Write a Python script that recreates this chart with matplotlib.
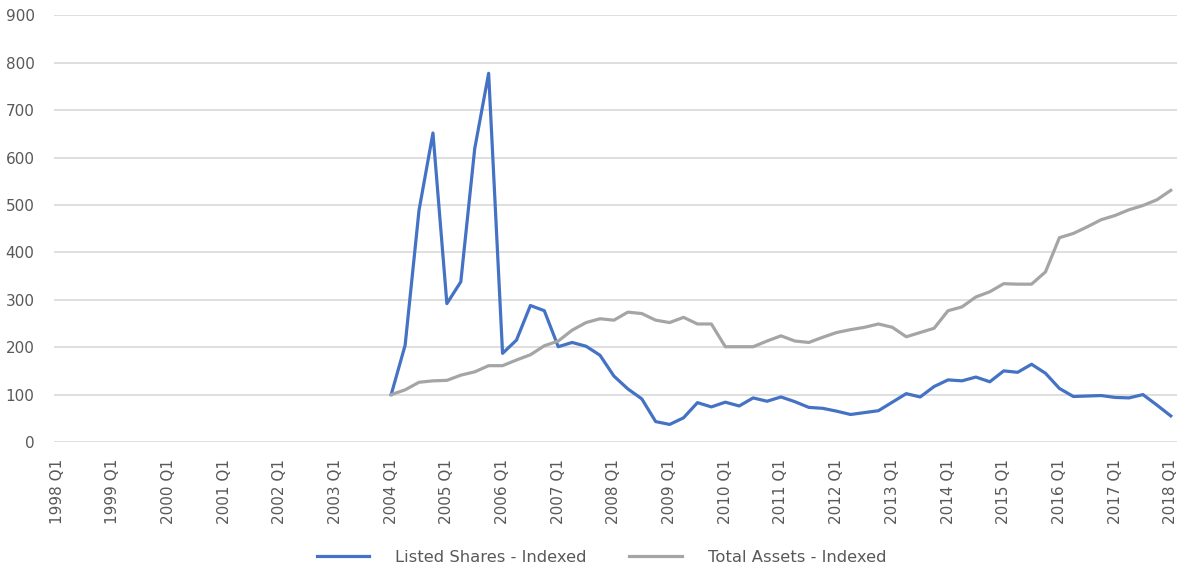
#!/usr/bin/env python3
"""Quarterly index of listed shares against total assets (2004 Q1 = 100)."""

import matplotlib

matplotlib.use("Agg")
import matplotlib.pyplot as plt

# Quarter labels for the category axis, 1998 Q1 .. 2018 Q1
years = list(range(1998, 2019))
quarters = [f"{y} Q{q}" for y in years for q in range(1, 5)][:-3]

# Both series start at 2004 Q1
start_label = "2004 Q1"

listed_shares = [
    100, 204, 489, 652,
    292, 338, 619, 778,
    187, 215, 288, 277,
    201, 210, 202, 183,
    139, 112, 91, 43,
    37, 51, 83, 74,
    84, 76, 93, 86,
    95, 85, 73, 71,
    65, 58, 62, 66,
    84, 102, 95, 117,
    131, 129, 137, 127,
    150, 147, 164, 145,
    113, 96, 97, 98,
    94, 93, 100, 78,
    55,
]

total_assets = [
    100, 110, 126, 129,
    130, 141, 148, 161,
    161, 173, 184, 203,
    213, 236, 252, 260,
    257, 274, 271, 257,
    252, 263, 249, 249,
    201, 201, 201, 213,
    224, 213, 210, 221,
    231, 237, 242, 249,
    242, 222, 231, 240,
    277, 285, 306, 317,
    334, 333, 333, 359,
    431, 440, 454, 469,
    478, 490, 499, 511,
    531,
]

yticks = list(range(0, 1000, 100))

TEXT = "#595959"
GRID = "#D9D9D9"

plt.rcParams["font.family"] = ["DejaVu Sans"]

fig = plt.figure(figsize=(11.82, 5.67), dpi=100)
ax = fig.add_axes([0.0457, 0.2205, 0.9501, 0.7522])

first = quarters.index(start_label)
xs = list(range(first, first + len(listed_shares)))

ax.plot(xs, listed_shares, color="#4472C4", lw=2.3, label="Listed Shares - Indexed",
        solid_joinstyle="round")
ax.plot(xs, total_assets, color="#A5A5A5", lw=2.3, label="Total Assets - Indexed",
        solid_joinstyle="round")

ax.set_xlim(-0.22, 80.45)
ax.set_ylim(0, 900)
ax.set_yticks(yticks)
ax.set_xticks(range(0, len(quarters), 4))
ax.set_xticklabels(quarters[::4], rotation=90)

ax.grid(axis="y", color=GRID, lw=1.2)
ax.set_axisbelow(True)
for side in ("top", "right", "left", "bottom"):
    ax.spines[side].set_visible(False)
ax.tick_params(axis="both", length=0, colors=TEXT, labelsize=11)
ax.tick_params(axis="x", pad=12)
ax.tick_params(axis="y", pad=14)

fig.legend(
    loc="center",
    bbox_to_anchor=(0.509, 1 - 557 / 567),
    ncol=2,
    frameon=False,
    fontsize=11.8,
    labelcolor=TEXT,
    handlelength=3.2,
    handletextpad=1.6,
    columnspacing=2.6,
)

fig.savefig("out.png", dpi=100)
